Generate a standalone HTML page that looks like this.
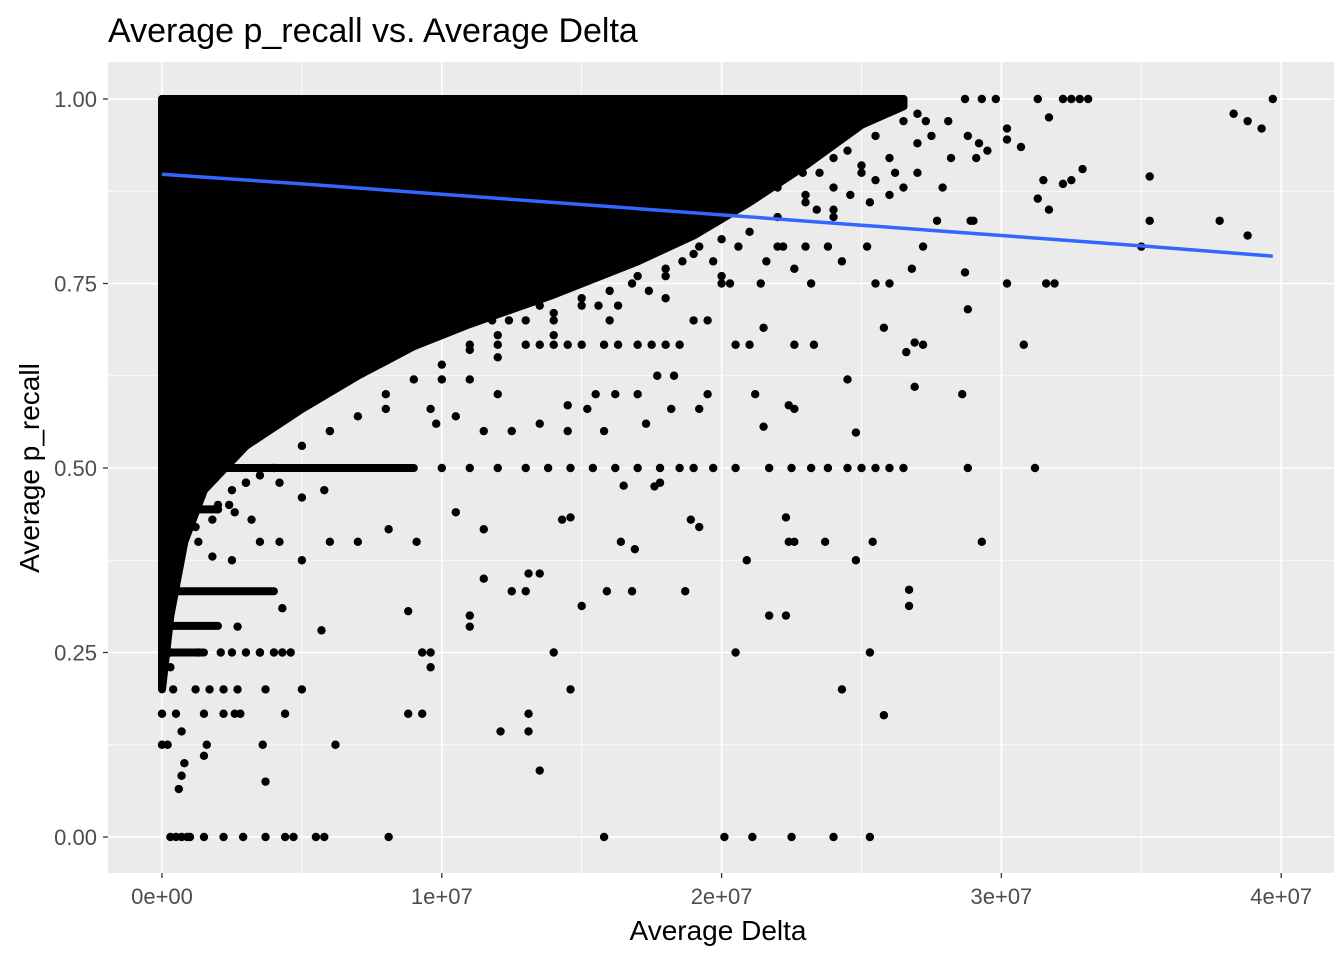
<!DOCTYPE html>
<html><head><meta charset="utf-8"><style>
body{margin:0;background:#fff}
svg text{font-family:"Liberation Sans",Arial,sans-serif}
</style></head><body>
<svg id="chart" width="1344" height="960" xmlns="http://www.w3.org/2000/svg">
<rect width="1344" height="960" fill="#fff"/>
<text x="108" y="42" font-size="34" fill="#000">Average p_recall vs. Average Delta</text>
<rect x="108" y="62" width="1226" height="811" fill="#EBEBEB"/>
<g id="grid"></g><g id="marks"></g><g id="axes"></g>
<text x="718" y="940" font-size="28" text-anchor="middle">Average Delta</text>
<text transform="translate(39,468) rotate(-90)" font-size="28" text-anchor="middle">Average p_recall</text>
</svg>
<script>
const xTicks=[0,1e7,2e7,3e7,4e7];
const xTickLabels=["0e+00","1e+07","2e+07","3e+07","4e+07"];
const yTicks=[0,0.25,0.5,0.75,1];
const yTickLabels=["0.00","0.25","0.50","0.75","1.00"];
// dense region envelope (x in millions, lower y bound; upper is 1.0)
const denseX=[0,0.3,0.8,1.5,3,5,7,9,11,14,17,19,21,23,25,26.5];
const denseLow=[0.2,0.3,0.4,0.47,0.53,0.58,0.625,0.665,0.695,0.735,0.78,0.815,0.86,0.91,0.965,0.99];
// horizontal point bands
const bandY=[0.5,0.333,0.286,0.25,0.444,1.0];
const bandEnd=[9,4,2,1.5,2,26.5];
// individual points (x in millions)
const ptX=[39.7,38.3,38.8,39.3,38.8,37.8,35.3,35.3,35,33.1,32.8,32.5,32.2,31.3,31.7,32.9,32.5,32.2,31.5,31.3,31.7,31.6,31.9,30.7,30.2,30.2,30.2,30.8,31.2,29.3,29.8,28.7,29.2,29.5,28.8,29.1,29,28.9,28.7,28.8,28.6,28.8,29.3,28.2,27.5,27.3,27.9,27.7,27.2,26.8,26.9,26.6,27.2,26.9,26.7,26.7,26.5,26,25.5,25,24.5,23.8,23.2,22.5,21.7,20.5,19.7,19,18.5,17.8,17,16.2,15.4,14.6,13.8,13,12,11,10,
25.8,25.3,25.4,24.8,24.8,24.3,25.8,25.5,26,25.2,24.5,23.2,23.3,22.6,22.4,22.6,22.4,22.6,23.7,22.3,22.3,21.7,20.5,20.9,21.2,21.5,20.5,21,21.5,19.2,18.9,16.4,16.9,16.8,18.7,15.9,15,14.6,14,13.5,13.1,13.1,12.1,12.5,13.5,13.1,13,14.3,14.6,16.5,17.6,17.8,11,11,10.5,11.5,11.5,9.3,9.6,9.6,9.3,8.8,8.8,9.1,8.1,8.1,6.2,5.7,5,4.4,3.7,3.6,3.7,3.5,4.6,4.3,
0.3,0.5,0.7,0.9,1.0,1.5,2.2,2.9,3.7,4.4,4.7,5.5,5.8,15.8,20.1,21.1,22.5,24,25.3,
0,0,0.2,0.5,0.7,0.8,0.6,0.7,1.5,1.2,1.5,1.6,2.2,2.6,2.8,1.7,2.2,0.4,0.3,0.3,1.3,2.1,2.5,3,3.5,2.7,4.0,4.3,2.7,0.2,0.6,1.3,1.8,2.5,3.5,4.2,5,6,7,1.2,2.0,2.6,3.2,4.2,5.0,5.8,3,
20,19.5,19,18.5,18,17.5,17,16.3,15.8,15,14.5,14,13.5,13,12,11,17,16.2,15.5,15.2,14.5,13.5,14.5,15.8,17.3,18.2,19.2,19.5,12,11,10.5,9.8,9.6,18.3,17.7,12.5,11.5,
22.9,23.5,24,24.5,25,25.5,26,26.5,27,26.2,25.3,24.6,24,23.4,23,23.8,24.3,22.6,22.2,21.6,21.4,20.6,20.3,19.7,19.2,18.6,18,17.4,16.8,16.3,15.6,15,14,13.5,13,12.4,11.8,24.8,25.5,26.5,27,28.1,22.5,23.6,21.5,20.5,19.5,18.5,17.5,16.5,15.5,14.5,13.5,12.5,11.5,10.5,9.5,8.5,7.5,6.5,5.5,4.5,3.5,2.5,1.5,21,20,19,18,17,16,22,23,
8,9,10,11,12,13,14,15,16,17,18,19,20,21,22,23,24,25,26,27,6,7,8,10,12,14,16,18,20,22,24,3,4,5,6,2,2.5,3.5,1.2,1.8,2.4];
const ptY=[1.0,0.98,0.97,0.96,0.815,0.835,0.895,0.835,0.80,1.0,1.0,1.0,1.0,1.0,0.975,0.905,0.89,0.885,0.89,0.865,0.85,0.75,0.75,0.935,0.96,0.945,0.75,0.667,0.5,1.0,1.0,1.0,0.94,0.93,0.95,0.92,0.835,0.835,0.765,0.715,0.6,0.5,0.4,0.92,0.95,0.97,0.88,0.835,0.8,0.77,0.67,0.657,0.667,0.61,0.335,0.313,0.5,0.5,0.5,0.5,0.5,0.5,0.5,0.5,0.5,0.5,0.5,0.5,0.5,0.5,0.5,0.5,0.5,0.5,0.5,0.5,0.5,0.5,0.5,
0.165,0.25,0.4,0.375,0.548,0.2,0.69,0.75,0.75,0.8,0.62,0.75,0.667,0.667,0.585,0.58,0.4,0.4,0.4,0.433,0.3,0.3,0.25,0.375,0.6,0.556,0.667,0.667,0.69,0.42,0.43,0.4,0.39,0.333,0.333,0.333,0.313,0.2,0.25,0.09,0.143,0.167,0.143,0.333,0.357,0.357,0.333,0.43,0.433,0.476,0.475,0.48,0.3,0.285,0.44,0.417,0.35,0.25,0.25,0.23,0.167,0.167,0.306,0.4,0.417,0.0,0.125,0.28,0.2,0.167,0.2,0.125,0.075,0.25,0.25,0.25,
0,0,0,0,0,0,0,0,0,0,0,0,0,0,0,0,0,0,0,
0.167,0.125,0.125,0.167,0.143,0.1,0.065,0.083,0.167,0.2,0.11,0.125,0.167,0.167,0.167,0.2,0.2,0.2,0.23,0.25,0.25,0.25,0.25,0.25,0.25,0.2,0.25,0.31,0.285,0.4,0.4,0.4,0.38,0.375,0.4,0.4,0.375,0.4,0.4,0.45,0.444,0.44,0.43,0.48,0.46,0.47,0.48,
0.75,0.7,0.7,0.667,0.667,0.667,0.667,0.667,0.667,0.667,0.667,0.667,0.667,0.667,0.667,0.667,0.6,0.6,0.6,0.58,0.585,0.56,0.55,0.55,0.56,0.58,0.58,0.6,0.6,0.62,0.57,0.56,0.58,0.625,0.625,0.55,0.55,
0.9,0.9,0.92,0.93,0.91,0.89,0.87,0.88,0.9,0.9,0.86,0.87,0.85,0.85,0.8,0.8,0.78,0.77,0.8,0.78,0.75,0.8,0.75,0.78,0.8,0.78,0.76,0.74,0.75,0.72,0.72,0.72,0.7,0.72,0.73,0.7,0.7,0.96,0.95,0.97,0.98,0.97,0.96,0.97,0.94,0.93,0.92,0.9,0.88,0.85,0.82,0.8,0.78,0.77,0.75,0.73,0.72,0.7,0.68,0.65,0.62,0.6,0.57,0.55,0.52,0.87,0.86,0.85,0.83,0.8,0.78,0.88,0.87,
0.6,0.62,0.64,0.66,0.68,0.7,0.71,0.73,0.74,0.76,0.77,0.79,0.81,0.82,0.84,0.86,0.88,0.9,0.92,0.94,0.55,0.57,0.58,0.62,0.65,0.68,0.7,0.73,0.76,0.8,0.84,0.48,0.5,0.53,0.55,0.45,0.47,0.49,0.42,0.43,0.45];
// smooth fit line
const fitX=[0,5,10,15,20,25,30,35,39.7];
const fitY=[0.898,0.885,0.871,0.857,0.843,0.829,0.815,0.801,0.787];

const NS="http://www.w3.org/2000/svg";
const X=v=>162+v/1e7*279.8, Y=v=>837-v*738;
const XM=v=>X(v*1e6);
function mk(t,a,p){const e=document.createElementNS(NS,t);for(const k in a)e.setAttribute(k,a[k]);p.appendChild(e);return e;}
const grid=document.getElementById('grid'),marks=document.getElementById('marks'),axes=document.getElementById('axes');
[0.5e7,1.5e7,2.5e7,3.5e7].forEach(v=>{const l=mk('line',{x1:X(v),x2:X(v),y1:62,y2:873,stroke:'#fff','stroke-width':0.8},grid);

});
[0.125,0.375,0.625,0.875].forEach(v=>{const l=mk('line',{x1:108,x2:1334,y1:Y(v),y2:Y(v),stroke:'#fff','stroke-width':0.8},grid);

});
xTicks.forEach((v,i)=>{const l=mk('line',{x1:X(v),x2:X(v),y1:62,y2:873,stroke:'#fff','stroke-width':1.6},grid);


const t=mk('line',{x1:X(v),x2:X(v),y1:873,y2:878,stroke:'#333','stroke-width':1.3},axes);


const tx=mk('text',{x:X(v),y:904,'font-size':22,fill:'#4D4D4D','text-anchor':'middle'},axes);tx.textContent=xTickLabels[i];

});
yTicks.forEach((v,i)=>{const l=mk('line',{x1:108,x2:1334,y1:Y(v),y2:Y(v),stroke:'#fff','stroke-width':1.6},grid);


const t=mk('line',{x1:103,x2:108,y1:Y(v),y2:Y(v),stroke:'#333','stroke-width':1.3},axes);


const tx=mk('text',{x:97,y:Y(v)+8,'font-size':22,fill:'#4D4D4D','text-anchor':'end'},axes);tx.textContent=yTickLabels[i];

});
// dense region
let pts=denseX.map((x,i)=>XM(x)+','+Y(denseLow[i]));
pts.push(XM(denseX[denseX.length-1])+','+Y(1));pts.push(XM(0)+','+Y(1));
const poly=mk('polygon',{points:pts.join(' '),fill:'#000',stroke:'#000','stroke-width':8,'stroke-linejoin':'round'},marks);


bandY.forEach((y,i)=>{const l=mk('line',{x1:XM(0),x2:XM(bandEnd[i]),y1:Y(y),y2:Y(y),stroke:'#000','stroke-width':8,'stroke-linecap':'round'},marks);

});
ptX.forEach((x,i)=>{const c=mk('circle',{cx:XM(x),cy:Y(ptY[i]),r:4.2,fill:'#000'},marks);

});
const fl=mk('polyline',{points:fitX.map((x,i)=>XM(x)+','+Y(fitY[i])).join(' '),fill:'none',stroke:'#3366FF','stroke-width':3.5},marks);


</script>
</body></html>
